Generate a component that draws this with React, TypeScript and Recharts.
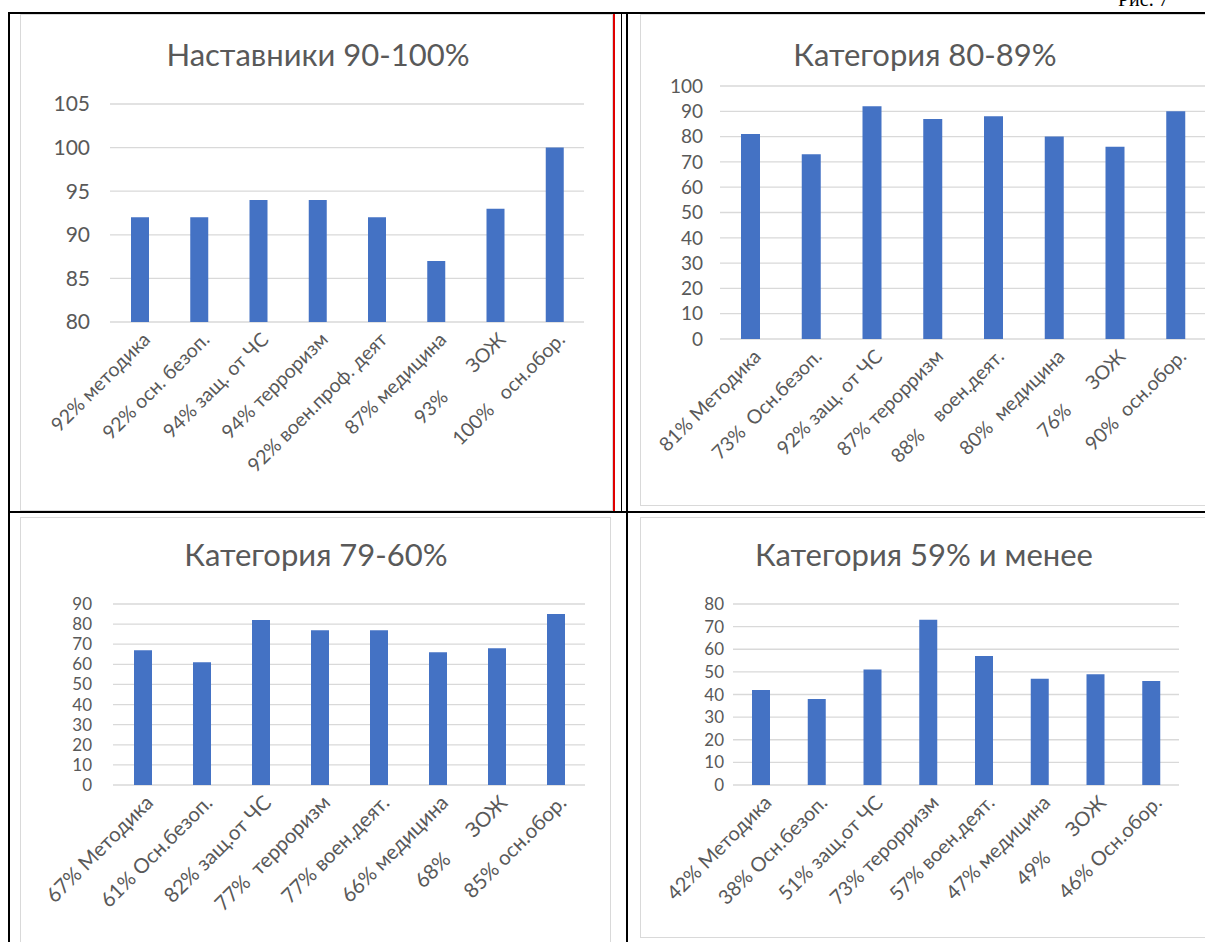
import React from 'react';
import { BarChart, Bar, XAxis, YAxis, CartesianGrid } from 'recharts';

// --- data ---
const mentorLabels = ['92% методика', '92% осн. безоп.', '94% защ. от ЧС', '94% терроризм', '92% воен.проф. деят', '87% медицина', '93%       ЗОЖ', '100%   осн.обор.'];
const mentorValues = [92, 92, 94, 94, 92, 87, 93, 100];
const mentorTicks = [80, 85, 90, 95, 100, 105];

const cat80Labels = ['81% Методика', '73%  Осн.безоп.', '92% защ. от ЧС', '87% терорризм', '88%    воен.деят.', '80%  медицина', '76%      ЗОЖ', '90%  осн.обор.'];
const cat80Values = [81, 73, 92, 87, 88, 80, 76, 90];
const cat80Ticks = [0, 10, 20, 30, 40, 50, 60, 70, 80, 90, 100];

const cat60Labels = ['67% Методика', '61% Осн.безоп.', '82% защ.от ЧС', '77%  терроризм', '77% воен.деят.', '66% медицина', '68%      ЗОЖ', '85% осн.обор.'];
const cat60Values = [67, 61, 82, 77, 77, 66, 68, 85];
const cat60Ticks = [0, 10, 20, 30, 40, 50, 60, 70, 80, 90];

const cat59Labels = ['42% Методика', '38% Осн.безоп.', '51% защ.от ЧС', '73% терорризм', '57% воен.деят.', '47% медицина', '49%      ЗОЖ', '46% Осн.обор.'];
const cat59Values = [42, 38, 51, 73, 57, 47, 49, 46];
const cat59Ticks = [0, 10, 20, 30, 40, 50, 60, 70, 80];

const FONT = 'Lato, "Open Sans", sans-serif';
const TEXT = '#595959';
const BAR = '#4472C4';
const GRID = '#d9d9d9';
const YAXIS_W = 50;
const XAXIS_H = 20;

const AngledTick = (props: any) => {
    const { x, y, payload, fontSize } = props;
    const ax = x + 7;
    const ay = y + 2;
    return (
        <text
            x={ax}
            y={ay}
            transform={`rotate(-45, ${ax}, ${ay})`}
            textAnchor="end"
            fill={TEXT}
            fontSize={fontSize}
            fontFamily={FONT}
            dy="0.35em"
            style={{ whiteSpace: 'pre' }}
        >
            {payload.value}
        </text>
    );
};

interface PanelProps {
    title: string;
    labels: string[];
    values: number[];
    ticks: number[];
    box: { left: number; top: number; width: number; height: number };
    plot: { left: number; right: number; top: number; bottom: number };
    titleX: number;
    titleY: number;
    yFont: number;
    yGap: number;
    xFont: number;
    barSize: number;
}

const Panel: React.FC<PanelProps> = ({ title, labels, values, ticks, box, plot, titleX, titleY, yFont, yGap, xFont, barSize }) => {
    const data = labels.map((name, i) => ({ name, value: values[i] }));
    const margin = {
        top: plot.top - box.top,
        left: plot.left - box.left - YAXIS_W,
        right: box.left + box.width - plot.right,
        bottom: box.top + box.height - plot.bottom - XAXIS_H,
    };
    return (
        <>
            <div
                style={{
                    position: 'absolute',
                    left: box.left,
                    top: box.top,
                    width: box.width,
                    height: box.height,
                    border: `1px solid ${GRID}`,
                    boxSizing: 'border-box',
                    background: '#fff',
                }}
            />
            <div style={{ position: 'absolute', left: box.left, top: box.top }}>
                <BarChart width={box.width} height={box.height} data={data} margin={margin}>
                    <CartesianGrid vertical={false} stroke={GRID} strokeWidth={1.3} />
                    <XAxis
                        dataKey="name"
                        interval={0}
                        height={XAXIS_H}
                        axisLine={false}
                        tickLine={false}
                        tickSize={0}
                        tickMargin={12}
                        tick={<AngledTick fontSize={xFont} />}
                    />
                    <YAxis
                        width={YAXIS_W}
                        domain={[ticks[0], ticks[ticks.length - 1]]}
                        ticks={ticks}
                        interval={0}
                        allowDataOverflow
                        axisLine={false}
                        tickLine={false}
                        tickSize={0}
                        tickMargin={yGap}
                        tick={{ fill: TEXT, fontSize: yFont, fontFamily: FONT }}
                    />
                    <Bar dataKey="value" fill={BAR} barSize={barSize} isAnimationActive={false} />
                </BarChart>
            </div>
            <div
                style={{
                    position: 'absolute',
                    left: titleX - 250,
                    width: 500,
                    top: titleY - 21,
                    height: 40,
                    lineHeight: '40px',
                    textAlign: 'center',
                    fontFamily: FONT,
                    fontSize: 31,
                    color: TEXT,
                }}
            >
                {title}
            </div>
        </>
    );
};

const Line = ({ left, top, width, height, color = '#000' }: any) => (
    <div style={{ position: 'absolute', left, top, width, height, background: color }} />
);

export default function App() {
    return (
        <div style={{ position: 'absolute', left: 0, top: 0, width: 1205, height: 942, overflow: 'hidden', background: '#fff' }}>
            <div style={{ position: 'absolute', left: 1118, top: -12, fontFamily: '"Liberation Serif", serif', fontSize: 20, color: '#000' }}>
                Рис. 7
            </div>
            <Panel
                title="Наставники 90-100%"
                labels={mentorLabels}
                values={mentorValues}
                ticks={mentorTicks}
                box={{ left: 20, top: 14, width: 593, height: 497 }}
                plot={{ left: 110, right: 584, top: 104, bottom: 322 }}
                titleX={318}
                titleY={55}
                yFont={21}
                yGap={20}
                xFont={19.5}
                barSize={18}
            />
            <Panel
                title="Категория 80-89%"
                labels={cat80Labels}
                values={cat80Values}
                ticks={cat80Ticks}
                box={{ left: 640, top: 14, width: 575, height: 492 }}
                plot={{ left: 720, right: 1206, top: 86, bottom: 339 }}
                titleX={925}
                titleY={55}
                yFont={19}
                yGap={17}
                xFont={19.5}
                barSize={19}
            />
            <Panel
                title="Категория 79-60%"
                labels={cat60Labels}
                values={cat60Values}
                ticks={cat60Ticks}
                box={{ left: 20, top: 517, width: 591, height: 440 }}
                plot={{ left: 113, right: 585, top: 604, bottom: 785 }}
                titleX={316}
                titleY={555}
                yFont={17}
                yGap={21}
                xFont={20.5}
                barSize={18}
            />
            <Panel
                title="Категория 59% и менее"
                labels={cat59Labels}
                values={cat59Values}
                ticks={cat59Ticks}
                box={{ left: 640, top: 517, width: 575, height: 421 }}
                plot={{ left: 733, right: 1179, top: 604, bottom: 785 }}
                titleX={924}
                titleY={555}
                yFont={17}
                yGap={9}
                xFont={20}
                barSize={18}
            />
            {/* table grid */}
            <Line left={8} top={12} width={1197} height={2} />
            <Line left={8} top={12} width={2} height={930} />
            <Line left={626} top={12} width={2} height={930} />
            <Line left={621} top={12} width={1} height={500} />
            <Line left={8} top={511} width={1197} height={2} />
            <Line left={613} top={14} width={2} height={497} color="#e00000" />
        </div>
    );
}
